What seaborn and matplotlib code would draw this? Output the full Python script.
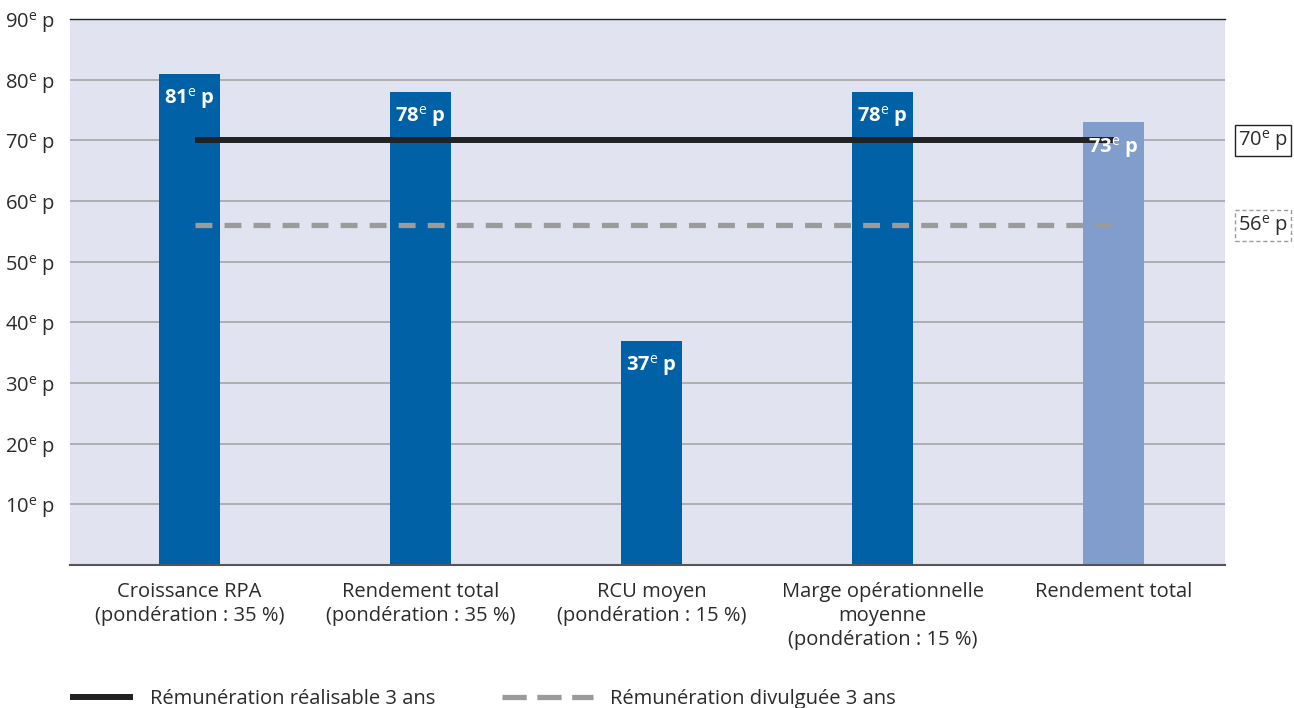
import matplotlib
matplotlib.use("Agg")
import matplotlib.pyplot as plt
from matplotlib.lines import Line2D
import seaborn as sns
import pandas as pd

# Data
categories = [
    "Croissance RPA\n(pondération : 35 %)",
    "Rendement total\n(pondération : 35 %)",
    "RCU moyen\n(pondération : 15 %)",
    "Marge opérationnelle\nmoyenne\n(pondération : 15 %)",
    "Rendement total",
]
percentiles = [81, 78, 37, 78, 73]
bar_colors = ["#0061a7", "#0061a7", "#0061a7", "#0061a7", "#809dcc"]
realisable = 70
divulguee = 56
y_ticks = [10, 20, 30, 40, 50, 60, 70, 80, 90]
legend_labels = ["Rémunération réalisable 3 ans", "Rémunération divulguée 3 ans"]

FS = 14.5
TEXT = "#2b2b2b"
DARK = "#222222"
GREY = "#9b9b9b"


def pct(v):
    return f"{v}$^{{\\mathrm{{e}}}}$ p"


sns.set_theme(style="white")
plt.rcParams["font.family"] = ["Open Sans", "DejaVu Sans"]
plt.rcParams["mathtext.fontset"] = "custom"
plt.rcParams["mathtext.rm"] = "Open Sans"
plt.rcParams["mathtext.bf"] = "Open Sans:bold"

fig = plt.figure(figsize=(12.94, 7.08), dpi=100)
ax = fig.add_axes([0.0541, 0.202, 0.8926, 0.7712])
ax.set_facecolor("#e1e4f0")

df = pd.DataFrame({"cat": categories, "val": percentiles})
sns.barplot(data=df, x="cat", y="val", hue="cat", palette=bar_colors,
            legend=False, width=0.265, saturation=1, linewidth=0,
            ax=ax, zorder=2)

ax.set_xlim(-0.518, 4.482)
ax.set_ylim(0, 90)
ax.set_yticks(y_ticks)
ax.set_yticklabels([pct(t) for t in y_ticks])
ax.yaxis.grid(True, color="#a9a9ad", linewidth=1.3, zorder=0)
ax.set_axisbelow(True)
ax.set_xlabel("")
ax.set_ylabel("")
ax.tick_params(axis="y", length=0, pad=11, labelsize=FS, labelcolor=TEXT)
ax.tick_params(axis="x", length=0, pad=12, labelsize=FS, labelcolor=TEXT)
for lbl in ax.get_xticklabels():
    lbl.set_linespacing(1.27)

for s in ["left", "right"]:
    ax.spines[s].set_visible(False)
ax.spines["top"].set_color(DARK)
ax.spines["top"].set_linewidth(1.0)
ax.spines["bottom"].set_color("#555555")
ax.spines["bottom"].set_linewidth(1.5)

# Value labels inside the bars
for i, v in enumerate(percentiles):
    ax.annotate(pct(v), xy=(i, v), xytext=(0, -9), textcoords="offset points",
                ha="center", va="top", color="white", fontsize=FS,
                fontweight="bold", zorder=5)

# Reference lines
ax.plot([0.025, 4.0], [realisable, realisable], color=DARK,
        linewidth=4.3, solid_capstyle="butt", zorder=4)
ax.plot([0.025, 4.0], [divulguee, divulguee], color=GREY,
        linewidth=3.8, dashes=(3.2, 2.3), dash_capstyle="butt", zorder=4)

# Reference values at the right
trans = ax.get_yaxis_transform()
ax.text(1.033, realisable, pct(realisable), transform=trans, ha="center",
        va="center", fontsize=FS, color=TEXT, clip_on=False,
        bbox=dict(boxstyle="square,pad=0.15", fc="white", ec=DARK, lw=1.0))
ax.text(1.033, divulguee, pct(divulguee), transform=trans, ha="center",
        va="center", fontsize=FS, color=TEXT, clip_on=False,
        bbox=dict(boxstyle="square,pad=0.15", fc="white", ec=GREY,
                  lw=1.0, linestyle=(0, (3, 2))))

# Legend (two entries with their own handle lengths)
h_real = Line2D([], [], color=DARK, linewidth=4.3, solid_capstyle="butt")
h_div = Line2D([], [], color=GREY, linewidth=3.8, dashes=(4.6, 2.0),
               dash_capstyle="butt")
leg1 = fig.legend([h_real], [legend_labels[0]], loc="center left",
                  bbox_to_anchor=(70 / 1294, 1 - 699 / 708), frameon=False,
                  fontsize=FS, handlelength=3.13, handletextpad=0.85,
                  borderpad=0, borderaxespad=0, labelcolor=TEXT)
leg2 = fig.legend([h_div], [legend_labels[1]], loc="center left",
                  bbox_to_anchor=(502 / 1294, 1 - 699 / 708), frameon=False,
                  fontsize=FS, handlelength=4.5, handletextpad=0.85,
                  borderpad=0, borderaxespad=0, labelcolor=TEXT)

fig.savefig("out.png", dpi=100, facecolor="white")
